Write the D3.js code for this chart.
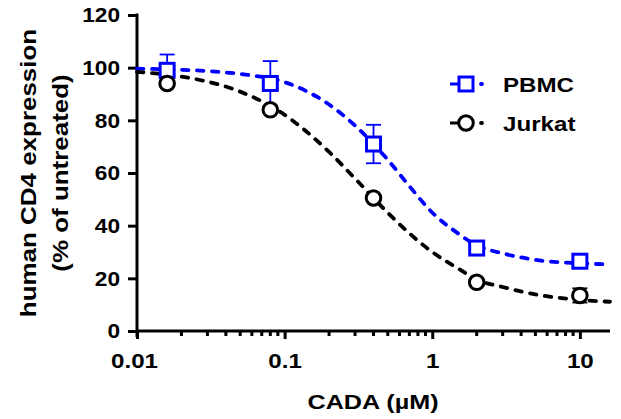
<!DOCTYPE html>
<html>
<head>
<meta charset="utf-8">
<script src="https://cdn.jsdelivr.net/npm/d3@7"></script>
<style>
  body { margin: 0; background: #fff; }
  text { font-family: "Liberation Sans", Arial, sans-serif; font-weight: bold; fill: #000; }
  .wide { transform-box: fill-box; transform-origin: center; }
  .wideR { transform-box: fill-box; transform-origin: right center; }
  .wideL { transform-box: fill-box; transform-origin: left center; }
</style>
</head>
<body>
<svg id="chart" width="621" height="419"></svg>
<script>
// measured points (5-fold dilutions of CADA, µM)
var doses = [0.016, 0.08, 0.4, 2, 10];
var pbmcMean = [99, 94, 71, 31.5, 26.5];
var pbmcErr = [6, 8.5, 7.3, 0, 0];
var jurkatMean = [94, 84, 50.5, 18.5, 13.5];
var jurkatErr = [0, 0, 0, 0, 2.7];

// dose-response fit curves
var curveDoses = [0.01, 0.02, 0.03, 0.05, 0.1, 0.2, 0.3, 0.5, 0.7, 1, 1.5, 2, 3, 5, 10, 16];
var pbmcCurve = [99.6, 99.2, 98.7, 97.6, 94.5, 86, 78, 65, 55, 45, 37, 32.5, 29.5, 27, 25.7, 25.3];
var jurkatCurve = [98.4, 96.6, 94.7, 90.9, 82.1, 68, 57.9, 44.9, 37.1, 30, 23.7, 19.5, 16.7, 13.9, 11.8, 11.1];

var yTicks = [0, 20, 40, 60, 80, 100, 120];
var xMajor = [0.01, 0.1, 1, 10];
var seriesNames = ['PBMC', 'Jurkat'];

var svg = d3.select('#chart');

var x = d3.scaleLog().domain([0.01, 16]).range([137, 610]);
var y = d3.scaleLinear().domain([0, 120]).range([331, 15]);

// minor log ticks
var xMinor = [];
xMajor.forEach(function(m){
  for(var k = 2; k <= 9; k++){
    if(m * k <= 16) xMinor.push(m * k);
  }
});

// ---- axes
var yAxis = svg.append('g')
  .attr('transform', 'translate(137,0)')
  .call(d3.axisLeft(y).tickValues(yTicks).tickSize(9).tickSizeOuter(0).tickPadding(8));

yAxis.select('.domain').remove();
yAxis.selectAll('line').attr('stroke', '#000').attr('stroke-width', 3);
yAxis.selectAll('text')
  .attr('font-size', 21)
  .attr('fill', '#000')
  .attr('class', 'wideR')
  .style('transform', 'scaleX(1.08)');

var xAxis = svg.append('g')
  .attr('transform', 'translate(0,331)')
  .call(d3.axisBottom(x).tickValues(xMajor).tickSize(8).tickSizeOuter(0).tickPadding(14)
    .tickFormat(function(d){ return d3.format('~g')(d); }));

xAxis.select('.domain').remove();
xAxis.selectAll('line').attr('stroke', '#000').attr('stroke-width', 3);
xAxis.selectAll('text')
  .attr('font-size', 21)
  .attr('fill', '#000')
  .attr('class', 'wide')
  .style('transform', 'scaleX(1.15)');
xAxis.selectAll('.tick text').filter(function(d){ return d === 0.01; }).attr('dx', -3);

svg.append('g').selectAll('line.minor')
  .data(xMinor)
  .enter().append('line')
  .attr('class', 'minor')
  .attr('x1', function(d){ return x(d); })
  .attr('x2', function(d){ return x(d); })
  .attr('y1', 331)
  .attr('y2', 336)
  .attr('stroke', '#000')
  .attr('stroke-width', 3);

svg.append('line')
  .attr('x1', 137).attr('x2', 137)
  .attr('y1', y(120) - 1.5).attr('y2', y(0) + 6)
  .attr('stroke', '#000').attr('stroke-width', 3);

svg.append('line')
  .attr('x1', 137).attr('x2', x(16))
  .attr('y1', 331).attr('y2', 331)
  .attr('stroke', '#000').attr('stroke-width', 3);

// ---- axis titles
svg.append('text')
  .attr('x', 373).attr('y', 409)
  .attr('text-anchor', 'middle')
  .attr('font-size', 21)
  .attr('class', 'wide')
  .style('transform', 'scaleX(1.2)')
  .text('CADA (µM)');

var yTitle = svg.append('text')
  .attr('transform', 'translate(0,173) rotate(-90) scale(1.18,1)')
  .attr('text-anchor', 'middle')
  .attr('font-size', 22);
yTitle.append('tspan').attr('x', 0).attr('y', 36).text('human CD4 expression');
yTitle.append('tspan').attr('x', 0).attr('y', 68).text('(% of untreated)');

// ---- curves
var line = d3.line()
  .x(function(d){ return x(d[0]); })
  .y(function(d){ return y(d[1]); })
  .curve(d3.curveMonotoneX);

var colors = {PBMC: '#0000ff', Jurkat: '#000'};

function drawCurve(vals, color){
  svg.append('path')
    .datum(curveDoses.map(function(d, i){ return [d, vals[i]]; }))
    .attr('d', line)
    .attr('fill', 'none')
    .attr('stroke', color)
    .attr('stroke-width', 3.8)
    .attr('stroke-linecap', 'round')
    .attr('stroke-dasharray', '6.5,8.5');
}
drawCurve(pbmcCurve, colors.PBMC);
drawCurve(jurkatCurve, colors.Jurkat);

// ---- error bars
function drawErrors(means, errs, color){
  var g = svg.append('g');
  doses.forEach(function(d, i){
    if(!errs[i]) return;
    var cx = x(d);
    g.append('line')
      .attr('x1', cx).attr('x2', cx)
      .attr('y1', y(means[i] + errs[i])).attr('y2', y(means[i] - errs[i]))
      .attr('stroke', color).attr('stroke-width', 1.8);
    [means[i] + errs[i], means[i] - errs[i]].forEach(function(v){
      g.append('line')
        .attr('x1', cx - 7.5).attr('x2', cx + 7.5)
        .attr('y1', y(v)).attr('y2', y(v))
        .attr('stroke', color).attr('stroke-width', 1.8);
    });
  });
}
drawErrors(pbmcMean, pbmcErr, colors.PBMC);
drawErrors(jurkatMean, jurkatErr, colors.Jurkat);

// ---- markers
svg.append('g').selectAll('rect')
  .data(doses)
  .enter().append('rect')
  .attr('x', function(d){ return x(d) - 7; })
  .attr('y', function(d, i){ return y(pbmcMean[i]) - 7; })
  .attr('width', 14).attr('height', 14)
  .attr('fill', '#fff')
  .attr('stroke', colors.PBMC)
  .attr('stroke-width', 3);

svg.append('g').selectAll('circle')
  .data(doses)
  .enter().append('circle')
  .attr('cx', function(d){ return x(d); })
  .attr('cy', function(d, i){ return y(jurkatMean[i]); })
  .attr('r', 7.3)
  .attr('fill', '#fff')
  .attr('stroke', colors.Jurkat)
  .attr('stroke-width', 3);

// ---- legend
var legend = svg.append('g').selectAll('g')
  .data(seriesNames)
  .enter().append('g')
  .attr('transform', function(d, i){ return 'translate(0,' + (84 + i * 39) + ')'; });

legend.append('line')
  .attr('x1', 450).attr('x2', 460).attr('y1', 0).attr('y2', 0)
  .attr('stroke', function(d){ return colors[d]; })
  .attr('stroke-width', 3);
legend.append('line')
  .attr('x1', 481).attr('x2', 482).attr('y1', 0).attr('y2', 0)
  .attr('stroke', function(d){ return colors[d]; })
  .attr('stroke-width', 3.8)
  .attr('stroke-linecap', 'round');
legend.filter(function(d){ return d === 'PBMC'; }).append('rect')
  .attr('x', 459).attr('y', -7).attr('width', 14).attr('height', 14)
  .attr('fill', '#fff').attr('stroke', colors.PBMC).attr('stroke-width', 3);
legend.filter(function(d){ return d === 'Jurkat'; }).append('circle')
  .attr('cx', 466).attr('cy', 0).attr('r', 7.3)
  .attr('fill', '#fff').attr('stroke', colors.Jurkat).attr('stroke-width', 3);
legend.append('text')
  .attr('x', 503).attr('y', 7.5)
  .attr('font-size', 21)
  .attr('class', 'wideL')
  .style('transform', 'scaleX(1.15)')
  .text(function(d){ return d; });
</script>
</body>
</html>
